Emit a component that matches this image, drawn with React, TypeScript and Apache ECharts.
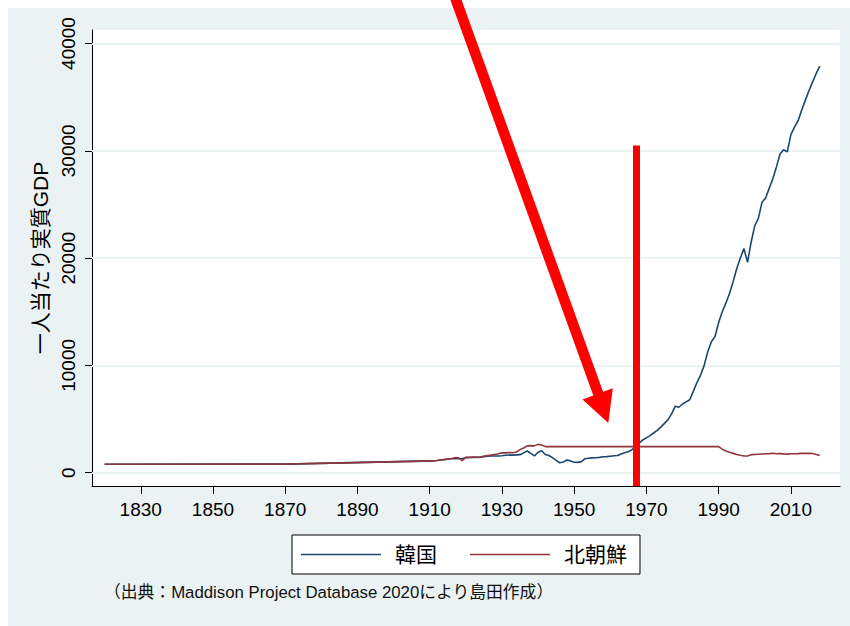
import React, { useEffect, useRef } from 'react';
import * as echarts from 'echarts';

const skYears = [1820, 1870, 1911, 1912, 1913, 1914, 1915, 1916, 1917, 1918, 1919, 1920, 1921, 1922, 1923, 1924, 1925, 1926, 1927, 1928, 1929, 1930, 1931, 1932, 1933, 1934, 1935, 1936, 1937, 1938, 1939, 1940, 1941, 1942, 1943, 1944, 1945, 1946, 1947, 1948, 1949, 1950, 1951, 1952, 1953, 1954, 1955, 1956, 1957, 1958, 1959, 1960, 1961, 1962, 1963, 1964, 1965, 1966, 1967, 1968, 1969, 1970, 1971, 1972, 1973, 1974, 1975, 1976, 1977, 1978, 1979, 1980, 1981, 1982, 1983, 1984, 1985, 1986, 1987, 1988, 1989, 1990, 1991, 1992, 1993, 1994, 1995, 1996, 1997, 1998, 1999, 2000, 2001, 2002, 2003, 2004, 2005, 2006, 2007, 2008, 2009, 2010, 2011, 2012, 2013, 2014, 2015, 2016, 2017, 2018];
const skValues = [790, 800, 1100, 1130, 1180, 1220, 1260, 1300, 1320, 1300, 1320, 1400, 1420, 1440, 1430, 1450, 1500, 1540, 1550, 1560, 1550, 1580, 1620, 1650, 1640, 1660, 1680, 1850, 2020, 1800, 1560, 1900, 2050, 1700, 1600, 1400, 1150, 930, 1000, 1180, 1100, 970, 960, 1030, 1300, 1350, 1380, 1390, 1430, 1480, 1500, 1540, 1580, 1600, 1750, 1850, 1950, 2150, 2400, 2750, 3050, 3250, 3450, 3700, 3950, 4250, 4600, 4950, 5500, 6200, 6100, 6400, 6600, 6800, 7600, 8400, 9100, 10000, 11300, 12200, 12700, 14000, 15000, 15800, 16700, 17800, 19000, 20000, 20900, 19600, 21500, 23000, 23700, 25200, 25600, 26500, 27400, 28500, 29700, 30100, 29900, 31500, 32200, 32800, 33800, 34700, 35600, 36400, 37200, 37900];

const nkYears = [1820, 1870, 1911, 1912, 1913, 1914, 1915, 1916, 1917, 1918, 1919, 1920, 1921, 1922, 1923, 1924, 1925, 1926, 1927, 1928, 1929, 1930, 1931, 1932, 1933, 1934, 1935, 1936, 1937, 1938, 1939, 1940, 1941, 1942, 1990, 1991, 1992, 1993, 1994, 1995, 1996, 1997, 1998, 1999, 2000, 2001, 2002, 2003, 2004, 2005, 2006, 2007, 2008, 2009, 2010, 2011, 2012, 2013, 2014, 2015, 2016, 2017, 2018];
const nkValues = [790, 800, 1100, 1140, 1190, 1230, 1280, 1330, 1400, 1380, 1120, 1430, 1430, 1450, 1440, 1460, 1530, 1600, 1640, 1700, 1760, 1860, 1850, 1870, 1860, 1930, 2150, 2300, 2500, 2520, 2500, 2640, 2580, 2430, 2430, 2200, 2020, 1900, 1800, 1700, 1620, 1560, 1560, 1680, 1700, 1720, 1740, 1760, 1780, 1810, 1760, 1780, 1750, 1730, 1760, 1770, 1780, 1800, 1810, 1800, 1790, 1700, 1600];

const xTicks = [1830, 1850, 1870, 1890, 1910, 1930, 1950, 1970, 1990, 2010];
const yTicks = [0, 10000, 20000, 30000, 40000];
const seriesNames = ['韓国', '北朝鮮'];
const highlightYear = 1967.3;
const highlightTop = 30500;

const FONT = "'Liberation Sans', 'Noto Sans CJK JP', sans-serif";

export default function App() {
  const ref = useRef<HTMLDivElement>(null);
  useEffect(() => {
    document.documentElement.style.overflow = 'hidden';
    const chart = echarts.init(ref.current!, null, { renderer: 'svg' });
    const zip = (xs: number[], ys: number[]) => xs.map((x, i) => [x, ys[i]]);
    chart.setOption({
      animation: false,
      backgroundColor: '#ffffff',
      textStyle: { fontFamily: FONT },
      grid: {
        left: 92,
        right: 10,
        top: 30,
        bottom: 140,
        show: true,
        backgroundColor: '#ffffff',
        borderWidth: 0,
      },
      xAxis: {
        type: 'value',
        min: 1816.5,
        max: 2023.6,
        axisLine: { show: true, onZero: false, lineStyle: { color: '#000', width: 1 } },
        axisTick: { show: true, length: 8, customValues: xTicks, lineStyle: { color: '#000' } },
        axisLabel: { customValues: xTicks, fontSize: 19, color: '#000', margin: 14, fontFamily: FONT, formatter: (v: number) => String(v) },
        splitLine: { show: false },
      },
      yAxis: {
        type: 'value',
        min: -1240,
        max: 41258,
        name: '一人当たり実質GDP',
        nameLocation: 'middle',
        nameRotate: 90,
        nameGap: 34,
        nameTextStyle: { fontSize: 21, color: '#000', fontFamily: FONT },
        axisLine: { show: true, onZero: false, lineStyle: { color: '#000', width: 1 } },
        axisTick: { show: true, length: 7, customValues: yTicks, lineStyle: { color: '#000' } },
        axisLabel: { customValues: yTicks, rotate: 90, fontSize: 19, color: '#000', margin: 14, fontFamily: FONT, formatter: (v: number) => String(v) },
        splitLine: { show: false },
      },
      legend: {
        data: seriesNames,
        left: 292,
        top: 535,
        orient: 'horizontal',
        icon: 'rect',
        itemWidth: 80,
        itemHeight: 1.6,
        itemGap: 33,
        padding: [8.5, 13, 8.5, 9],
        backgroundColor: '#ffffff',
        borderColor: '#000',
        borderWidth: 1,
        borderRadius: 0,
        textStyle: { fontSize: 21, color: '#000', padding: [0, 0, 0, 9], lineHeight: 22, fontFamily: FONT },
      },
      series: [
        {
          name: 'gridlines',
          type: 'line',
          data: [],
          z: 1,
          silent: true,
          markLine: {
            z: 1,
            silent: true,
            symbol: 'none',
            label: { show: false },
            lineStyle: { color: '#eaf2f3', width: 2, type: 'solid' },
            data: yTicks.map((v) => ({ yAxis: v })),
          },
        },
        {
          name: seriesNames[0],
          type: 'line',
          data: zip(skYears, skValues),
          showSymbol: false,
          symbol: 'none',
          z: 3,
          lineStyle: { color: '#1a476f', width: 1.6 },
          itemStyle: { color: '#1a476f' },
        },
        {
          name: seriesNames[1],
          type: 'line',
          data: zip(nkYears, nkValues),
          showSymbol: false,
          symbol: 'none',
          z: 3,
          lineStyle: { color: '#90353b', width: 1.6 },
          itemStyle: { color: '#90353b' },
        },
        {
          name: 'highlight',
          type: 'line',
          data: [],
          z: 10,
          silent: true,
          markLine: {
            z: 10,
            silent: true,
            symbol: 'none',
            label: { show: false },
            lineStyle: { color: '#ff0000', width: 7, type: 'solid', cap: 'butt' },
            data: [[{ coord: [highlightYear, -1240] }, { coord: [highlightYear, highlightTop] }]],
          },
        },
      ],
      graphic: [
        {
          type: 'rect',
          z: -100,
          silent: true,
          shape: { x: 8, y: 8, width: 842, height: 618 },
          style: { fill: '#eaf2f3' },
        },
        {
          type: 'text',
          z: 50,
          x: 104,
          y: 592,
          style: {
            text: '（出典：Maddison Project Database 2020により島田作成）',
            fontSize: 16.8,
            fontFamily: FONT,
            fill: '#111',
            verticalAlign: 'middle',
            align: 'left',
          },
        },
        {
          type: 'line',
          z: 100,
          silent: true,
          shape: { x1: 454.2, y1: -5, x2: 598.5, y2: 394.5 },
          style: { stroke: '#ff0000', lineWidth: 10.5, lineCap: 'butt' },
        },
        {
          type: 'polygon',
          z: 100,
          silent: true,
          shape: { points: [[582.5, 399.5], [612.8, 388.3], [608.3, 423]] },
          style: { fill: '#ff0000' },
        },
      ],
    });
    return () => chart.dispose();
  }, []);
  return <div ref={ref} style={{ position: 'fixed', left: 0, top: 0, width: 850, height: 626 }} />;
}
